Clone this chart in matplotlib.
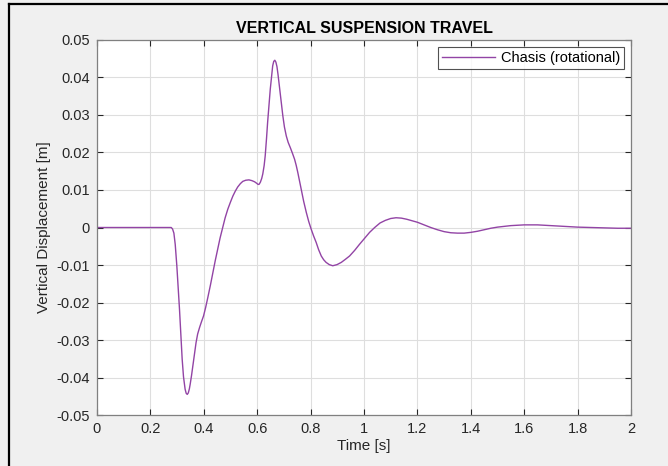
import matplotlib
matplotlib.use("Agg")
import matplotlib.pyplot as plt
from matplotlib.lines import Line2D

plt.rcParams['font.family'] = ['Liberation Sans', 'DejaVu Sans']

# chassis vertical displacement over time
time_s = [0.0, 0.10, 0.20, 0.27, 0.278, 0.283, 0.288, 0.293, 0.299, 0.304, 0.309,
          0.314, 0.319, 0.324, 0.330, 0.334, 0.338, 0.342, 0.346, 0.349, 0.354,
          0.359, 0.365, 0.371, 0.377, 0.384, 0.391, 0.399, 0.407, 0.415, 0.425,
          0.434, 0.443, 0.452, 0.461, 0.471, 0.480, 0.490, 0.500, 0.509, 0.518,
          0.527, 0.537, 0.546, 0.557, 0.569, 0.580, 0.590, 0.598, 0.603, 0.607,
          0.612, 0.617, 0.621, 0.626, 0.630, 0.635, 0.639, 0.644, 0.649, 0.654,
          0.658, 0.662, 0.666, 0.670, 0.674, 0.678, 0.682, 0.686, 0.691, 0.696,
          0.702, 0.709, 0.716, 0.724, 0.732, 0.740, 0.746, 0.752, 0.758, 0.765,
          0.774, 0.784, 0.793, 0.802, 0.811, 0.821, 0.830, 0.840, 0.849, 0.858,
          0.870, 0.883, 0.899, 0.915, 0.930, 0.946, 0.965, 0.983, 1.002, 1.021,
          1.04, 1.06, 1.08, 1.10, 1.12, 1.14, 1.16, 1.18, 1.20, 1.225,
          1.25, 1.275, 1.30, 1.325, 1.35, 1.375, 1.40, 1.425, 1.45, 1.475,
          1.50, 1.55, 1.60, 1.65, 1.70, 1.75, 1.80, 1.85, 1.90, 1.95, 2.0]
displacement_m = [0.0, 0.0, 0.0, 0.0, 0.0, -0.0004, -0.0015, -0.0045, -0.0102, -0.0160, -0.0218,
                  -0.0285, -0.0351, -0.0398, -0.0431, -0.0442, -0.0445, -0.0441, -0.0430, -0.0418, -0.0395,
                  -0.0369, -0.0337, -0.0307, -0.0284, -0.0267, -0.0252, -0.0236, -0.0213, -0.0187, -0.0153,
                  -0.0120, -0.0088, -0.0058, -0.0028, 0.0, 0.0026, 0.0049, 0.0068, 0.0084, 0.0097,
                  0.0108, 0.0117, 0.0123, 0.0126, 0.0127, 0.0125, 0.0122, 0.0118, 0.0115, 0.0115,
                  0.0121, 0.0131, 0.0143, 0.0165, 0.0191, 0.0238, 0.0280, 0.0325, 0.0369, 0.0405,
                  0.0431, 0.0443, 0.0446, 0.0441, 0.0429, 0.0408, 0.0384, 0.0360, 0.0328, 0.0298,
                  0.0268, 0.0244, 0.0227, 0.0213, 0.0198, 0.0182, 0.0166, 0.0147, 0.0126, 0.0102,
                  0.0070, 0.0040, 0.0016, -0.0004, -0.0022, -0.0040, -0.0059, -0.0076, -0.0086, -0.0093,
                  -0.0099, -0.0102, -0.0099, -0.0093, -0.0085, -0.0076, -0.0061, -0.0045, -0.0029, -0.0013,
                  0.0000, 0.0012, 0.0019, 0.0024, 0.0026, 0.0025, 0.0022, 0.0018, 0.0014, 0.0007,
                  0.0000, -0.0006, -0.0011, -0.0014, -0.0015, -0.0015, -0.0013, -0.0010, -0.0006, -0.0002,
                  0.0001, 0.0005, 0.0007, 0.0007, 0.0005, 0.0003, 0.0001, 0.0000, -0.0001, -0.0002, -0.0002]

x_ticks = [0, 0.2, 0.4, 0.6, 0.8, 1, 1.2, 1.4, 1.6, 1.8, 2]
x_tick_labels = ['0', '0.2', '0.4', '0.6', '0.8', '1', '1.2', '1.4', '1.6', '1.8', '2']
y_ticks = [-0.05, -0.04, -0.03, -0.02, -0.01, 0, 0.01, 0.02, 0.03, 0.04, 0.05]
y_tick_labels = ['-0.05', '-0.04', '-0.03', '-0.02', '-0.01', '0', '0.01', '0.02', '0.03', '0.04', '0.05']

fig = plt.figure(figsize=(6.68, 4.66), dpi=100, facecolor='#f0f0f0')
ax = fig.add_axes([0.1452, 0.1094, 0.7994, 0.8048])
ax.set_facecolor('white')

ax.plot(time_s, displacement_m, color='#9244a5', lw=1.0, label='Chasis (rotational)')

ax.set_xlim(0, 2)
ax.set_ylim(-0.05, 0.05)
ax.set_xticks(x_ticks)
ax.set_xticklabels(x_tick_labels)
ax.set_yticks(y_ticks)
ax.set_yticklabels(y_tick_labels)
ax.grid(True, color='#dedede', lw=0.8)
ax.set_axisbelow(True)
ax.tick_params(direction='in', length=4, width=0.8, colors='#262626', labelsize=10.5,
               top=True, right=True, pad=5)
for spine in ax.spines.values():
    spine.set_color('#808080')
    spine.set_linewidth(0.9)

ax.set_title('VERTICAL SUSPENSION TRAVEL', fontsize=11.5, fontweight='bold', color='black', pad=5)
ax.set_xlabel('Time [s]', fontsize=11, color='#262626', labelpad=2)
ax.set_ylabel('Vertical Displacement [m]', fontsize=11, color='#262626', labelpad=4)

leg = ax.legend(loc='upper right', fontsize=10.5, frameon=True, fancybox=False,
                edgecolor='#262626', borderaxespad=0.45, handlelength=3.6,
                borderpad=0.3, handletextpad=0.4)
leg.get_frame().set_linewidth(0.8)

# dark frame along the left and top edges
fig.add_artist(Line2D([0.0135, 1.0], [0.991, 0.991], color='black', lw=1.6,
                      transform=fig.transFigure))
fig.add_artist(Line2D([0.0135, 0.0135], [0.0, 0.991], color='black', lw=1.6,
                      transform=fig.transFigure))

fig.savefig('out.png', dpi=100, facecolor=fig.get_facecolor())
